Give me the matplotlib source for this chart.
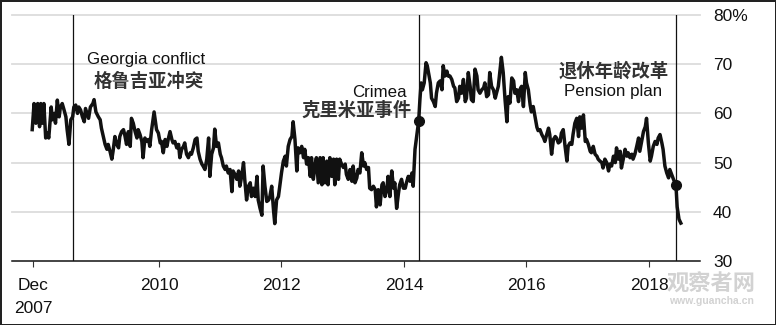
import matplotlib.pyplot as plt

# approval rating (decimal years)
years = [
    2007.93, 2007.96, 2007.99, 2008.02, 2008.05, 2008.07, 2008.10, 2008.12, 2008.15, 2008.18,
    2008.20, 2008.24, 2008.26, 2008.29, 2008.31, 2008.34, 2008.37, 2008.39, 2008.42, 2008.45,
    2008.48, 2008.50, 2008.53, 2008.56, 2008.59, 2008.61, 2008.64, 2008.67, 2008.69, 2008.72,
    2008.75, 2008.78, 2008.80, 2008.85, 2008.88, 2008.92, 2008.94, 2008.97, 2009.01, 2009.04,
    2009.06, 2009.09, 2009.12, 2009.15, 2009.17, 2009.20, 2009.23, 2009.25, 2009.28, 2009.31,
    2009.34, 2009.36, 2009.39, 2009.42, 2009.44, 2009.47, 2009.50, 2009.53, 2009.55, 2009.58,
    2009.61, 2009.64, 2009.66, 2009.69, 2009.72, 2009.74, 2009.77, 2009.80, 2009.83, 2009.85,
    2009.88, 2009.92, 2009.96, 2009.99, 2010.02, 2010.04, 2010.07, 2010.10, 2010.13, 2010.15,
    2010.18, 2010.21, 2010.23, 2010.26, 2010.29, 2010.32, 2010.34, 2010.37, 2010.40, 2010.42,
    2010.45, 2010.48, 2010.51, 2010.53, 2010.56, 2010.59, 2010.62, 2010.64, 2010.67, 2010.70,
    2010.72, 2010.75, 2010.78, 2010.81, 2010.83, 2010.86, 2010.89, 2010.91, 2010.94, 2010.97,
    2011.00, 2011.02, 2011.05, 2011.08, 2011.10, 2011.13, 2011.16, 2011.19, 2011.21, 2011.24,
    2011.27, 2011.30, 2011.32, 2011.35, 2011.38, 2011.40, 2011.43, 2011.46, 2011.49, 2011.51,
    2011.54, 2011.57, 2011.60, 2011.62, 2011.65, 2011.68, 2011.70, 2011.73, 2011.76, 2011.79,
    2011.81, 2011.84, 2011.87, 2011.89, 2011.92, 2011.95, 2011.98, 2012.00, 2012.03, 2012.06,
    2012.08, 2012.11, 2012.14, 2012.17, 2012.19, 2012.22, 2012.25, 2012.27, 2012.30, 2012.33,
    2012.36, 2012.38, 2012.41, 2012.44, 2012.47, 2012.49, 2012.52, 2012.55, 2012.57, 2012.60,
    2012.63, 2012.66, 2012.68, 2012.71, 2012.74, 2012.76, 2012.79, 2012.82, 2012.85, 2012.87,
    2012.90, 2012.93, 2012.95, 2012.98, 2013.01, 2013.04, 2013.06, 2013.09, 2013.12, 2013.15,
    2013.17, 2013.20, 2013.23, 2013.25, 2013.28, 2013.31, 2013.34, 2013.36, 2013.39, 2013.42,
    2013.44, 2013.47, 2013.50, 2013.53, 2013.55, 2013.58, 2013.61, 2013.64, 2013.66, 2013.69,
    2013.72, 2013.74, 2013.77, 2013.80, 2013.83, 2013.85, 2013.88, 2013.91, 2013.93, 2013.96,
    2013.99, 2014.02, 2014.04, 2014.07, 2014.10, 2014.13, 2014.15, 2014.18, 2014.24, 2014.26,
    2014.28, 2014.30, 2014.33, 2014.36, 2014.38, 2014.40, 2014.43, 2014.45, 2014.48, 2014.51,
    2014.53, 2014.56, 2014.59, 2014.62, 2014.64, 2014.67, 2014.70, 2014.72, 2014.75, 2014.78,
    2014.81, 2014.83, 2014.86, 2014.89, 2014.91, 2014.94, 2014.97, 2015.00, 2015.02, 2015.05,
    2015.08, 2015.10, 2015.13, 2015.16, 2015.19, 2015.21, 2015.24, 2015.27, 2015.30, 2015.32,
    2015.35, 2015.38, 2015.40, 2015.43, 2015.46, 2015.49, 2015.51, 2015.54, 2015.57, 2015.59,
    2015.62, 2015.65, 2015.68, 2015.70, 2015.73, 2015.76, 2015.79, 2015.81, 2015.84, 2015.87,
    2015.89, 2015.92, 2015.95, 2015.98, 2016.00, 2016.03, 2016.06, 2016.08, 2016.11, 2016.14,
    2016.17, 2016.19, 2016.22, 2016.25, 2016.28, 2016.30, 2016.33, 2016.36, 2016.38, 2016.41,
    2016.44, 2016.47, 2016.49, 2016.52, 2016.55, 2016.57, 2016.60, 2016.63, 2016.66, 2016.68,
    2016.71, 2016.74, 2016.76, 2016.79, 2016.82, 2016.85, 2016.87, 2016.90, 2016.93, 2016.96,
    2016.98, 2017.01, 2017.04, 2017.06, 2017.09, 2017.12, 2017.15, 2017.17, 2017.20, 2017.23,
    2017.25, 2017.28, 2017.31, 2017.34, 2017.36, 2017.39, 2017.42, 2017.45, 2017.47, 2017.50,
    2017.53, 2017.55, 2017.58, 2017.61, 2017.64, 2017.66, 2017.69, 2017.72, 2017.74, 2017.77,
    2017.80, 2017.83, 2017.85, 2017.88, 2017.91, 2017.94, 2017.96, 2017.99, 2018.02, 2018.04,
    2018.07, 2018.10, 2018.13, 2018.15, 2018.18, 2018.21, 2018.23, 2018.26, 2018.29, 2018.32,
    2018.34, 2018.37, 2018.40, 2018.44, 2018.46, 2018.49, 2018.52,
]
approval = [
    56.7, 62.0, 58.0, 62.0, 57.3, 62.0, 58.0, 62.0, 55.0, 56.0,
    55.0, 61.3, 58.7, 60.0, 58.0, 62.7, 59.3, 61.3, 62.0, 60.7,
    59.3, 56.7, 53.7, 58.7, 59.3, 61.3, 61.7, 60.0, 61.3, 60.7,
    59.3, 58.3, 61.0, 59.0, 61.3, 62.0, 62.8, 60.3, 59.3, 58.7,
    57.0, 55.3, 53.7, 52.7, 53.7, 52.3, 50.7, 52.3, 55.3, 53.7,
    53.0, 55.3, 56.3, 56.7, 55.7, 53.7, 56.3, 53.3, 59.0, 58.0,
    56.3, 55.0, 56.7, 55.7, 54.3, 51.0, 55.0, 54.3, 54.7, 53.3,
    56.7, 60.3, 56.7, 56.0, 54.0, 54.3, 52.0, 54.7, 53.3, 54.7,
    56.3, 54.7, 54.0, 54.3, 53.0, 53.7, 51.0, 52.7, 53.3, 54.0,
    51.7, 51.0, 52.0, 51.7, 53.0, 54.7, 55.0, 52.3, 50.7, 49.7,
    49.3, 48.6, 50.7, 55.0, 47.2, 51.7, 53.0, 56.8, 53.3, 54.0,
    51.7, 51.0, 49.3, 48.6, 49.3, 47.9, 48.6, 44.1, 48.3, 47.6,
    46.6, 48.3, 45.2, 47.2, 50.0, 46.6, 42.4, 45.2, 45.9, 43.1,
    44.8, 43.1, 47.2, 42.4, 40.7, 39.3, 49.3, 45.2, 42.1, 42.4,
    43.1, 45.2, 40.3, 37.6, 42.4, 43.1, 45.9, 47.9, 50.3, 51.3,
    49.3, 53.3, 54.7, 55.3, 58.3, 54.7, 48.3, 53.0, 52.0, 53.3,
    51.0, 52.7, 49.7, 51.0, 47.2, 51.0, 46.6, 49.7, 51.0, 45.9,
    51.0, 45.5, 51.0, 45.9, 50.3, 45.5, 51.0, 47.2, 50.7, 45.5,
    50.7, 46.6, 50.7, 49.7, 49.0, 49.7, 47.6, 46.6, 48.6, 46.2,
    49.3, 45.9, 46.9, 48.6, 47.9, 52.0, 49.3, 50.0, 48.6, 49.0,
    44.8, 44.5, 45.2, 44.5, 41.0, 44.5, 41.4, 45.5, 45.9, 43.1,
    44.5, 47.2, 43.1, 48.3, 44.8, 45.9, 40.7, 43.8, 45.5, 46.6,
    44.8, 44.8, 45.9, 47.2, 46.2, 47.9, 45.2, 52.7, 58.5, 62.8,
    66.2, 64.8, 66.2, 70.3, 69.7, 68.3, 66.2, 63.1, 62.4, 61.4,
    64.1, 66.2, 66.6, 64.8, 69.7, 67.6, 68.6, 67.6, 67.6, 66.9,
    65.5, 65.2, 62.4, 63.1, 65.5, 64.1, 66.9, 62.4, 63.1, 68.3,
    65.5, 62.8, 62.4, 69.0, 67.6, 64.8, 64.1, 64.8, 65.2, 66.2,
    63.4, 63.8, 68.3, 65.5, 64.8, 63.1, 64.1, 65.5, 69.0, 71.4,
    68.3, 62.8, 58.3, 63.4, 62.1, 67.2, 66.6, 64.1, 64.8, 62.4,
    64.8, 65.5, 61.4, 68.3, 66.2, 64.8, 61.7, 60.3, 61.4, 59.3,
    57.2, 56.5, 56.7, 55.7, 55.0, 54.3, 55.7, 57.0, 55.7, 51.7,
    54.7, 55.3, 55.0, 54.0, 54.3, 56.0, 56.7, 53.3, 50.3, 53.3,
    54.0, 53.7, 55.7, 58.0, 59.0, 55.3, 59.3, 57.0, 59.7, 54.3,
    54.7, 53.7, 52.3, 52.0, 53.3, 51.7, 51.3, 50.7, 50.3, 50.0,
    48.9, 50.7, 50.0, 48.3, 49.7, 49.3, 51.3, 50.0, 53.0, 50.7,
    52.3, 48.9, 50.7, 52.7, 51.3, 52.0, 51.0, 51.7, 50.7, 51.7,
    53.3, 55.0, 52.3, 54.3, 56.3, 57.3, 59.0, 54.0, 50.3, 51.3,
    53.3, 54.3, 53.7, 55.0, 55.7, 54.0, 52.7, 49.3, 47.9, 46.9,
    48.6, 47.6, 46.6, 45.5, 41.0, 38.5, 37.7,
]

# events: Georgia conflict, Crimea, pension plan
event_years = [2008.60, 2014.24, 2018.44]
dot_years = [2014.24, 2018.44]
dot_values = [58.5, 45.5]

tick_years = [2007.95, 2010, 2012, 2014, 2016, 2018]
tick_labels = ['Dec\n2007', '2010', '2012', '2014', '2016', '2018']
y_ticks = [30, 40, 50, 60, 70, 80]
y_labels = ['30', '40', '50', '60', '70', '80%']

plt.rcParams['font.family'] = ['Liberation Sans', 'DejaVu Sans']
cjk = ['Noto Sans CJK SC', 'DejaVu Sans']

fig = plt.figure(figsize=(7.76, 3.25), dpi=100)
fig.patch.set_edgecolor('#222222')
fig.patch.set_linewidth(2)
ax = fig.add_axes([12 / 776, 64 / 325, 688 / 776, 246 / 325])

for v in y_ticks[1:]:
    ax.axhline(v, color='#dcdcdc', lw=1.3, zorder=0, clip_on=False)
for e in event_years:
    ax.axvline(e, color='#111111', lw=0.9, zorder=1)

ax.plot(years, approval, color='#111111', lw=2.5, solid_joinstyle='round', zorder=3)
ax.plot(dot_years, dot_values, 'o', color='#111111', ms=7, zorder=4)

ax.set_xlim(2007.60, 2018.833)
ax.set_ylim(30, 80)
ax.set_xticks(tick_years)
ax.set_xticklabels(tick_labels)
ax.set_yticks(y_ticks)
ax.set_yticklabels(y_labels)
ax.yaxis.tick_right()
ax.tick_params(axis='x', length=4.3, width=0.8, color='#333333', pad=7.8, labelsize=12.5, labelcolor='#111111')
ax.tick_params(axis='y', length=0, pad=9.4, labelsize=12.5, labelcolor='#111111')
for lab in ax.get_xticklabels():
    lab.set_linespacing(1.65)
for lab in ax.get_yticklabels():
    lab.set_horizontalalignment('left')
for s in ['top', 'left', 'right']:
    ax.spines[s].set_visible(False)
ax.spines['bottom'].set_color('#111111')
ax.spines['bottom'].set_linewidth(1.1)

# annotations
ax.text(2009.79, 70.0, 'Georgia conflict', ha='center', va='baseline', fontsize=12.2, color='#111111')
ax.text(2009.83, 65.4, '格鲁吉亚冲突', ha='center', va='baseline', fontsize=13.2,
        family=cjk, fontweight='bold', color='#333333')
ax.text(2014.044, 63.4, 'Crimea', ha='right', va='baseline', fontsize=12.2, color='#111111')
ax.text(2014.125, 59.5, '克里米亚事件', ha='right', va='baseline', fontsize=13.2,
        family=cjk, fontweight='bold', color='#333333')
ax.text(2017.425, 67.4, '退休年龄改革', ha='center', va='baseline', fontsize=13.2,
        family=cjk, fontweight='bold', color='#333333')
ax.text(2017.41, 63.6, 'Pension plan', ha='center', va='baseline', fontsize=12.2, color='#111111')

# watermark
fig.text(711 / 776, 1 - 284 / 325, '观察者网', ha='center', va='center', fontsize=16,
         family=cjk, fontweight='bold', color='#d2d2d2')
fig.text(711 / 776, 1 - 301 / 325, 'www.guancha.cn', ha='center', va='center', fontsize=7.5,
         fontweight='bold', color='#d2d2d2')

fig.savefig('out.png', dpi=100)
